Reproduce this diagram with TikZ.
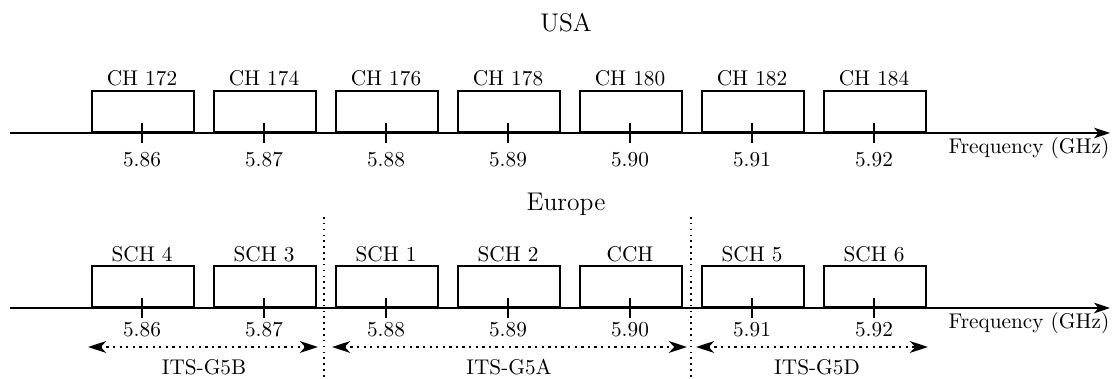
\documentclass[tikz,border=0pt]{standalone}
\usetikzlibrary{arrows.meta}
\begin{document}
\begin{tikzpicture}[x=0.47pt,y=-0.47pt,
  chbox/.style={draw,line width=0.95pt,minimum width=102*0.47pt,minimum height=41*0.47pt,inner sep=0pt,anchor=south west},
  axisline/.style={line width=0.75pt,-{Stealth[length=7.5pt,width=5pt,inset=2pt]}},
  tickline/.style={line width=0.95pt},
  sep/.style={line width=0.75pt,dotted},
  band/.style={line width=1.1pt,dotted,{Stealth[length=8.5pt,width=5.5pt,inset=2.5pt]}-{Stealth[length=8.5pt,width=5.5pt,inset=2.5pt]}},
  txt/.style={inner sep=0pt,font=\normalsize},
  title/.style={inner sep=0pt,font=\large}]
\useasboundingbox (0,0) rectangle (1112,379);
% titles
\node[title] (usa) at (566,23) {USA};
\node[title] (eur) at (566,204) {Europe};
% axes
\coordinate (ua0) at (10,133);
\coordinate (ua1) at (1110,133);
\draw[axisline] (ua0) -- (ua1);
\coordinate (ea0) at (10,308);
\coordinate (ea1) at (1110,308);
\draw[axisline] (ea0) -- (ea1);
\node[txt] (ufreq) at (1029,148) {Frequency (GHz)};
\node[txt] (efreq) at (1029,323) {Frequency (GHz)};
% USA channels
\foreach \i/\ch/\f in {0/172/5.86,1/174/5.87,2/176/5.88,3/178/5.89,4/180/5.90,5/182/5.91,6/184/5.92}{
  \node[chbox] (ub\i) at (91+122*\i,133) {};
  \node[txt] (ul\i) at (142+122*\i,78) {CH \ch};
  \coordinate (ut\i a) at (142+122*\i,123);
  \coordinate (ut\i b) at (142+122*\i,143);
  \draw[tickline] (ut\i a) -- (ut\i b);
  \node[txt] (uf\i) at (142+122*\i,160) {\f};
}
% Europe channels
\foreach \i/\ch/\f in {0/SCH 4/5.86,1/SCH 3/5.87,2/SCH 1/5.88,3/SCH 2/5.89,4/CCH/5.90,5/SCH 5/5.91,6/SCH 6/5.92}{
  \node[chbox] (eb\i) at (91+122*\i,308) {};
  \node[txt] (el\i) at (142+122*\i,254) {\ch};
  \coordinate (et\i a) at (142+122*\i,298);
  \coordinate (et\i b) at (142+122*\i,318);
  \draw[tickline] (et\i a) -- (et\i b);
  \node[txt] (ef\i) at (142+122*\i,330) {\f};
}
% separators
\coordinate (s1a) at (324,217); \coordinate (s1b) at (324,379);
\coordinate (s2a) at (691,217); \coordinate (s2b) at (691,379);
\draw[sep] (s1a) -- (s1b);
\draw[sep] (s2a) -- (s2b);
% bands
\coordinate (b1a) at (88,347); \coordinate (b1b) at (318,347);
\coordinate (b2a) at (332,347); \coordinate (b2b) at (687,347);
\coordinate (b3a) at (696,347); \coordinate (b3b) at (928,347);
\draw[band] (b1a) -- (b1b);
\draw[band] (b2a) -- (b2b);
\draw[band] (b3a) -- (b3b);
\node[txt] (g5b) at (204,367) {ITS-G5B};
\node[txt] (g5a) at (509,367) {ITS-G5A};
\node[txt] (g5d) at (817,367) {ITS-G5D};
\end{tikzpicture}
\end{document}
